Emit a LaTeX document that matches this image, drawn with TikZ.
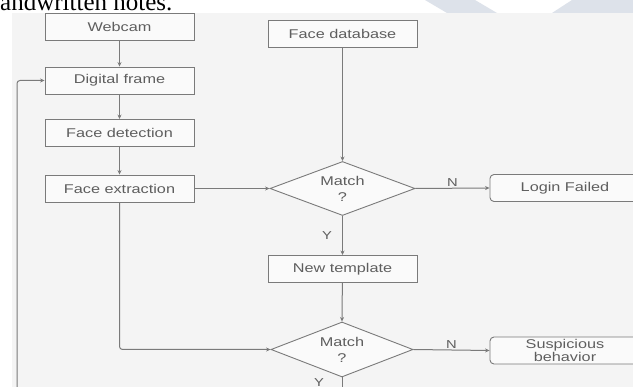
\documentclass[tikz,border=0pt]{standalone}
\usepackage{fontspec}
\setmainfont{Liberation Sans}[FakeStretch=1.28]
\newfontfamily\notefont{Liberation Serif}
\usetikzlibrary{shapes.geometric,arrows.meta}
\definecolor{bg}{HTML}{F4F4F4}
\definecolor{boxfill}{HTML}{FAFAFA}
\definecolor{edge}{HTML}{7A7A7A}
\definecolor{txt}{HTML}{5E5E5E}
\definecolor{wm}{HTML}{DDE2EA}
\begin{document}
\begin{tikzpicture}[x=1pt,y=-1pt,
  every node/.style={font=\fontsize{12.7}{15}\selectfont, text=txt},
  box/.style={draw=edge, line width=0.9pt, fill=boxfill, minimum width=149pt, minimum height=27pt, inner sep=0pt},
  rbox/.style={box, rounded corners=4pt, minimum width=150pt},
  dia/.style={diamond, draw=edge, line width=0.9pt, fill=boxfill, minimum width=145pt, minimum height=54pt, inner sep=0pt},
  txtnode/.style={align=center, inner sep=0pt, font=\fontsize{12.7}{16}\selectfont},
  lbl/.style={font=\fontsize{11.5}{13}\selectfont, inner sep=1pt},
  conn/.style={draw=edge, line width=1pt},
  arr/.style={conn, -{Stealth[length=4.5pt,width=4pt]}}]
\useasboundingbox (0,0) rectangle (633,387);
\clip (0,0) rectangle (633,387);
\fill[white] (0,0) rectangle (633,387);
\fill[wm] (425,0) -- (475,0) -- (497,13) -- (447,13) -- cycle;
\fill[wm] (572,0) -- (633,0) -- (633,13) -- (552,13) -- cycle;
\fill[bg] (12,13) rectangle (633,387);
\node[anchor=base west, inner sep=0pt, text=black, font=\notefont\fontsize{25}{25}\selectfont] (note) at (0,11) {andwritten notes.};
% left column
\node[box] (web) at (119.5,26.5) {Webcam};
\node[box] (dig) at (119.5,80.5) {Digital frame};
\node[box] (det) at (119.5,133) {Face detection};
\node[box] (ext) at (119.5,188.5) {Face extraction};
% middle column
\node[box] (db) at (342.5,34) {Face database};
\node[dia] (m1) at (342.5,188.5) {};
\node[txtnode] (m1t) at (m1) {Match\\?};
\node[box] (tmpl) at (342.5,269) {New template};
\node[dia, minimum width=142pt, minimum height=55pt] (m2) at (342,349.5) {};
\node[txtnode] (m2t) at (m2) {Match\\?};
% right column
\node[rbox] (fail) at (565,188) {Login Failed};
\node[rbox, align=center, font=\fontsize{12.7}{12.5}\selectfont] (susp) at (565,350.5) {Suspicious\\behavior};
% connectors
\draw[arr] (web) -- (dig);
\draw[arr] (dig) -- (det);
\draw[arr] (det) -- (ext);
\draw[arr] (ext.east) -- (m1.west);
\draw[arr] (db) -- (m1.north);
\draw[arr] (m1.east) -- node[lbl, above] (n1) {N} (fail.west);
\draw[arr] (m1.south) -- node[lbl, left, xshift=-9pt] (y1) {Y} (tmpl.north);
\draw[arr] (tmpl) -- (m2.north);
\draw[arr, rounded corners=3pt] (ext.south) |- (m2.west);
\draw[arr] (m2.east) -- node[lbl, above] (n2) {N} (susp.west);
\coordinate (bot) at (342,395);
\draw[conn] (m2.south) -- (bot);
\node[lbl] (y2) at (319,383) {Y};
\coordinate (loop) at (17,395);
\draw[arr, rounded corners=3pt] (loop) |- (dig.west);
\end{tikzpicture}
\end{document}
